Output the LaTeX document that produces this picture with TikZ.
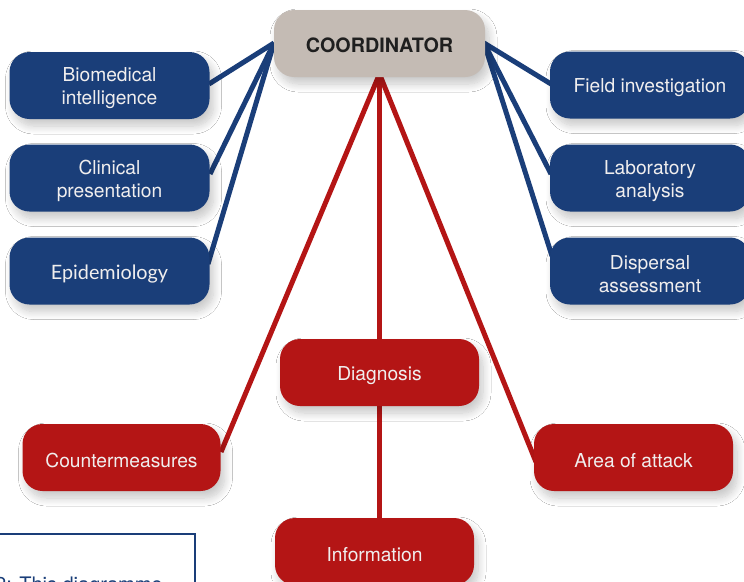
\documentclass[tikz,border=0pt]{standalone}
\usepackage{fontspec}
\setmainfont{TeX Gyre Heros}
\newfontfamily\epifont{Lato}
\usetikzlibrary{shadows.blur}
\definecolor{navy}{HTML}{1A3E79}
\definecolor{crimson}{HTML}{B41515}
\definecolor{stone}{HTML}{C4BBB4}
\definecolor{boxtext}{HTML}{F0EEEE}
\newcommand\lowr[1]{\raisebox{-3pt}[\height][\depth]{#1}}
\tikzset{
  boxbase/.style={rounded corners=20pt, minimum width=200pt, minimum height=67pt,
    align=center, text=boxtext, font=\fontsize{19.2}{23}\selectfont,
    blur shadow={shadow xshift=4pt, shadow yshift=-7pt, shadow blur steps=12, shadow opacity=22, shadow blur radius=8pt}},
  bluebox/.style={boxbase, fill=navy},
  redbox/.style={boxbase, fill=crimson},
  coordbox/.style={boxbase, fill=stone, text=black!88, minimum width=211pt,
    font=\fontsize{19.8}{22}\selectfont\bfseries},
  blueline/.style={draw=navy, line width=5pt},
  redline/.style={draw=crimson, line width=5pt},
}
\begin{document}
\begin{tikzpicture}[x=1pt,y=-1pt]
\useasboundingbox (0,0) rectangle (744,581);
\clip (0,0) rectangle (744,581);
\fill[white] (0,0) rectangle (744,581);
% connector anchor points
\coordinate (cl) at (274,43);
\coordinate (cr) at (484,43);
\coordinate (cb) at (379.5,74);
% lines behind
\draw[blueline] (cl) -- (209,84) coordinate (bioe);
\draw[blueline] (cl) -- (210,174) coordinate (cline);
\draw[blueline] (cl) -- (208,264) coordinate (epie);
\draw[blueline] (cr) -- (551,84) coordinate (fielde);
\draw[blueline] (cr) -- (551,174) coordinate (labe);
\draw[blueline] (cr) -- (552,256) coordinate (dispe);
\draw[redline] (cb) -- (221,452) coordinate (cme);
\draw[redline] (cb) -- (536,462) coordinate (aoae);
\draw[redline] (cb) -- (379.5,530) coordinate (infe);
% nodes
\node[coordbox] (coord) at (379.5,43.5) {\raisebox{-2pt}[\height][\depth]{COORDINATOR}};
\node[bluebox] (bio) at (109.5,85.5) {\lowr{Biomedical}\\\lowr{intelligence}};
\node[bluebox] (clin) at (109.5,178) {\lowr{Clinical}\\\lowr{presentation}};
\node[bluebox, font=\fontsize{19.8}{23}\epifont] (epi) at (109.5,271) {\lowr{Epidemiology}};
\node[bluebox] (field) at (650,85) {\lowr{Field investigation}};
\node[bluebox] (lab) at (650,178) {\lowr{Laboratory}\\\lowr{analysis}};
\node[bluebox] (disp) at (650,271) {\lowr{Dispersal}\\\lowr{assessment}};
\node[redbox, minimum width=199pt] (diag) at (379.5,372.5) {\lowr{Diagnosis}};
\node[redbox, minimum width=198pt] (cm) at (121.5,457.5) {\lowr{Countermeasures}};
\node[redbox, minimum width=199pt] (aoa) at (633.5,457.5) {\lowr{Area of attack}};
\node[redbox, minimum width=199pt] (info) at (374.5,551.5) {\lowr{Information}};
% caption box
\draw[navy, line width=1.2pt] (-5,534) rectangle (195,600);
\node[anchor=base west, inner sep=0pt, text=navy, font=\fontsize{20}{24}\selectfont] (cap) at (-5,591) {2: This diagramme};
\end{tikzpicture}
\end{document}
